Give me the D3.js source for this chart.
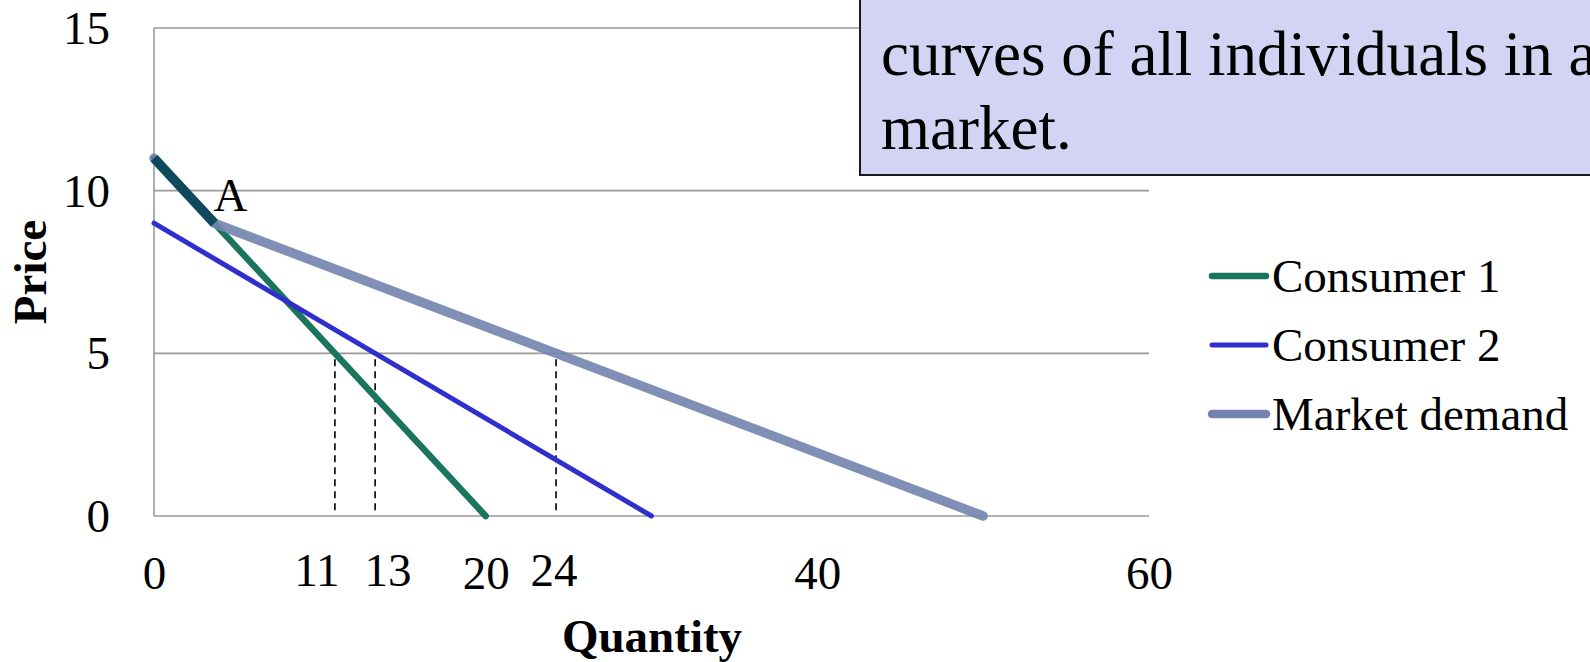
<!DOCTYPE html>
<html>
<head>
<meta charset="utf-8">
<script src="https://cdn.jsdelivr.net/npm/d3@7"></script>
<style>
  html, body { margin: 0; padding: 0; background: #ffffff; }
  svg { display: block; font-family: "Liberation Serif", "Times New Roman", serif; }
</style>
</head>
<body>
<svg id="chart" width="1590" height="662"></svg>
<script>
// Individual demand schedules (quantity, price) and their horizontal sum
const consumer1 = [{ q: 0, p: 11 }, { q: 20, p: 0 }];
const consumer2 = [{ q: 0, p: 9 }, { q: 30, p: 0 }];
const marketDemand = [{ q: 0, p: 11 }, { q: 3.64, p: 9 }, { q: 50, p: 0 }];

const seriesNames = ["Consumer 1", "Consumer 2", "Market demand"];
const xTicks = [0, 20, 40, 60];
const yTicks = [0, 5, 10, 15];
const guidePrice = 5;
const kinkLabel = "A";
const noteLines = ["curves of all individuals in a", "market."];

const svg = d3.select("#chart");

const x = d3.scaleLinear().domain([0, 60]).range([154, 1149]);
const y = d3.scaleLinear().domain([0, 15]).range([516, 28]);

// quantity demanded on a piecewise-linear curve at a given price
function qAt(curve, p) {
  for (let i = 0; i < curve.length - 1; i++) {
    const a = curve[i], b = curve[i + 1];
    if (p <= a.p && p >= b.p) {
      return a.q + (a.p - p) / (a.p - b.p) * (b.q - a.q);
    }
  }
  return null;
}

// horizontal gridlines
svg.append("g")
  .selectAll("line")
  .data(yTicks)
  .join("line")
  .attr("x1", x(0)).attr("x2", x(60))
  .attr("y1", d => y(d)).attr("y2", d => y(d))
  .attr("stroke", "#9a9a9a").attr("stroke-width", 1.6);

// vertical axis line
svg.append("line")
  .attr("x1", x(0)).attr("x2", x(0))
  .attr("y1", y(15)).attr("y2", y(0))
  .attr("stroke", "#9a9a9a").attr("stroke-width", 1.6);

// y axis labels
const yAxis = svg.append("g")
  .attr("transform", `translate(${x(0)},0)`)
  .call(d3.axisLeft(y).tickValues(yTicks).tickSize(0).tickPadding(44).tickFormat(d3.format("d")));
yAxis.select(".domain").remove();
yAxis.selectAll("text")
  .attr("font-family", "Liberation Serif, serif")
  .attr("font-size", 47).attr("fill", "#000").attr("dy", "0.33em");

// x axis labels
const xAxis = svg.append("g")
  .attr("transform", `translate(0,${y(0)})`)
  .call(d3.axisBottom(x).tickValues(xTicks).tickSize(0).tickPadding(40).tickFormat(d3.format("d")));
xAxis.select(".domain").remove();
xAxis.selectAll("text")
  .attr("font-family", "Liberation Serif, serif")
  .attr("font-size", 47).attr("fill", "#000").attr("dy", "0.71em");

// dashed guides from the quantity each curve demands at the guide price
const curves = [consumer1, consumer2, marketDemand];
const guideQs = curves.map(c => qAt(c, guidePrice));
const guideLabelShift = [-18, 13, -2];

svg.append("g")
  .selectAll("line")
  .data(guideQs)
  .join("line")
  .attr("x1", d => x(d)).attr("x2", d => x(d))
  .attr("y1", y(guidePrice) + 6).attr("y2", y(0) - 5)
  .attr("stroke", "#000").attr("stroke-width", 1.6)
  .attr("stroke-dasharray", "7,5");

svg.append("g")
  .selectAll("text")
  .data(guideQs)
  .join("text")
  .attr("x", (d, i) => x(d) + guideLabelShift[i])
  .attr("y", y(0) + 70)
  .attr("text-anchor", "middle")
  .attr("font-size", 47)
  .text(d => Math.round(d));

// demand curves
const line = d3.line().x(d => x(d.q)).y(d => y(d.p));
const styles = [
  { color: "#1a755c", width: 6.5 },
  { color: "#2f2fcd", width: 5 },
  { color: "#7283ad", width: 9.5 }
];

curves.forEach((c, i) => {
  svg.append("path")
    .datum(c)
    .attr("d", line)
    .attr("fill", "none")
    .attr("stroke", styles[i].color)
    .attr("stroke-width", styles[i].width)
    .attr("stroke-linecap", "round")
    .attr("stroke-linejoin", "round")
    .attr("opacity", i === 2 ? 0.9 : 1);
});

// stretch where the market curve coincides with consumer 1
svg.append("path")
  .datum(marketDemand.slice(0, 2))
  .attr("d", line)
  .attr("fill", "none")
  .attr("stroke", "#0e4a5b")
  .attr("stroke-width", 9.5)
  .attr("stroke-linecap", "butt");

// kink label
const kink = marketDemand[1];
svg.append("text")
  .attr("x", x(kink.q) + 16)
  .attr("y", y(kink.p) - 12)
  .attr("text-anchor", "middle")
  .attr("font-size", 47)
  .text(kinkLabel);

// axis titles
svg.append("text")
  .attr("transform", "translate(46,272) rotate(-90)")
  .attr("text-anchor", "middle")
  .attr("font-size", 47)
  .attr("font-weight", "bold")
  .text("Price");

svg.append("text")
  .attr("x", 652).attr("y", 652)
  .attr("text-anchor", "middle")
  .attr("font-size", 47)
  .attr("font-weight", "bold")
  .text("Quantity");

// legend
const legend = svg.append("g")
  .selectAll("g")
  .data(seriesNames)
  .join("g")
  .attr("transform", (d, i) => `translate(1212,${276 + i * 69})`);
legend.append("line")
  .attr("x1", 0).attr("x2", 54)
  .attr("stroke", (d, i) => styles[i].color)
  .attr("stroke-width", (d, i) => i === 2 ? 8.5 : (i === 0 ? 6.5 : 5))
  .attr("stroke-linecap", "round");
legend.append("text")
  .attr("x", 60).attr("dy", "0.33em")
  .attr("font-size", 47)
  .text(d => d);

// note box
svg.append("rect")
  .attr("x", 860).attr("y", -10)
  .attr("width", 760).attr("height", 185)
  .attr("fill", "#d3d3f3")
  .attr("stroke", "#1a1a1a").attr("stroke-width", 2);
svg.append("g")
  .selectAll("text")
  .data(noteLines)
  .join("text")
  .attr("x", 881)
  .attr("y", (d, i) => 75 + i * 74)
  .attr("font-size", 63)
  .text(d => d);
</script>
</body>
</html>
